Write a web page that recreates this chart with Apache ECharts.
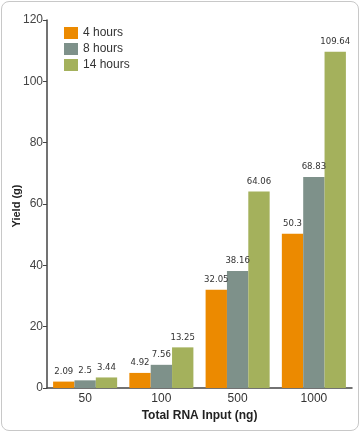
<!DOCTYPE html>
<html><head><meta charset="utf-8">
<script src="https://cdn.jsdelivr.net/npm/echarts@6/dist/echarts.min.js"></script>
<style>
html,body{margin:0;padding:0;background:#fff;}
#frame{position:absolute;left:1px;top:1px;width:356px;height:428px;border:1px solid #c8c8c8;border-radius:8px;}
#chart{position:absolute;left:0;top:0;width:360px;height:432px;}
</style></head>
<body><div id="frame"></div><div id="chart"></div>
<script>
const categories = ['50','100','500','1000'];
const seriesNames = ['4 hours','8 hours','14 hours'];
const hours4 = [2.09, 4.92, 32.05, 50.3];
const hours8 = [2.5, 7.56, 38.16, 68.83];
const hours14 = [3.44, 13.25, 64.06, 109.64];
const colors = ['#EC8A00','#7E918A','#A4B15C'];
const yTitle = 'Yield (g)';
const font = '"DejaVu Sans Condensed", "Liberation Sans Narrow", sans-serif';
const chart = echarts.init(document.getElementById('chart'));
const mk = (name, data, color) => ({
  name, type:'bar', data, barGap:'0%', barCategoryGap:'16%',
  itemStyle:{color},
  label:{show:true, position:'top', distance:5, color:'#333', fontSize:9.5, fontFamily:font}
});
chart.setOption({
  animation:false,
  grid:{left:47, right:8, top:20, bottom:44, containLabel:false},
  legend:{orient:'vertical', left:59, top:22, itemWidth:14, itemHeight:12, itemGap:4,
    icon:'rect', textStyle:{fontSize:12, color:'#333', fontFamily:'"Liberation Sans", Arial'}},
  graphic:[{type:'text', x:17, y:206, rotation:Math.PI/2, style:{text:yTitle, fontSize:11, fontWeight:'bold', fill:'#222', align:'center', verticalAlign:'middle'}}],
  xAxis:{type:'category', data:categories,
    axisLine:{lineStyle:{color:'#444', width:1.5}}, axisTick:{show:false},
    axisLabel:{fontSize:12, color:'#333', margin:5},
    name:'Total RNA Input (ng)', nameLocation:'middle', nameGap:19,
    nameTextStyle:{fontSize:12, fontWeight:'bold', color:'#222'}},
  yAxis:{type:'value', min:0, max:120, interval:20,
    axisLine:{show:true, lineStyle:{color:'#444', width:1.5}},
    axisTick:{show:true, length:4, lineStyle:{color:'#444'}},
    splitLine:{show:false},
    axisLabel:{fontSize:12, color:'#444', margin:4}},
  series:[mk(seriesNames[0],hours4,colors[0]), mk(seriesNames[1],hours8,colors[1]), mk(seriesNames[2],hours14,colors[2])]
});
</script></body></html>
